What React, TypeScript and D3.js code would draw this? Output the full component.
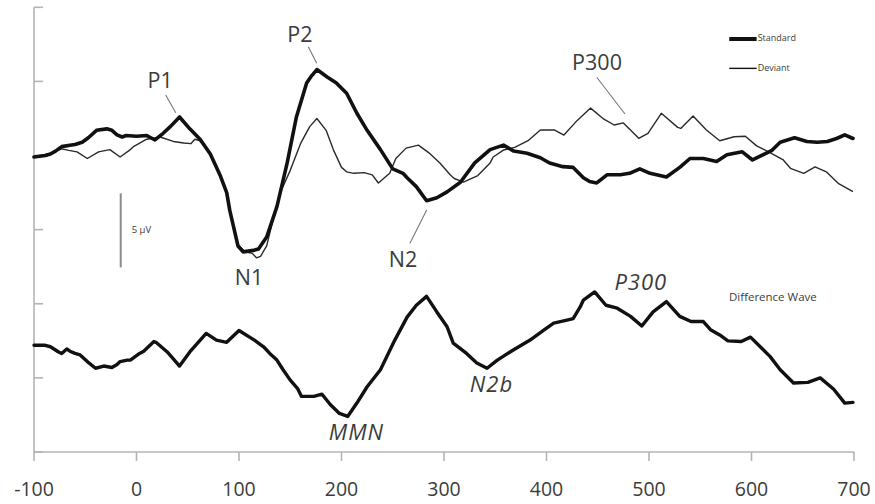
import React from 'react';
import * as d3 from 'd3';

// ---- axes ----
const xTicks = [-100, 0, 100, 200, 300, 400, 500, 600, 700];
const yTicks = [-20, -15, -10, -5, 0, 5, 10];

// ---- ERP waveforms: [time (ms), amplitude (µV)] ----
const standardWave: [number, number][] = [
  [-100, -0.1], [-89, 0], [-84, 0.1], [-79, 0.3], [-73, 0.6], [-65, 0.7], [-60, 0.75], [-53, 0.9],
  [-47, 1.2], [-39, 1.7], [-29, 1.8], [-24, 1.7], [-19, 1.4], [-14, 1.25], [-10, 1.35], [0, 1.3],
  [10, 1.35], [18, 1.05], [26, 1.5], [33, 1.95], [42, 2.6], [52, 1.8], [62, 1.1], [72, 0.1],
  [82, -1.4], [88, -2.5], [91, -3.7], [99, -6.1], [104, -6.5], [114, -6.4], [119, -6.3], [127, -5.5],
  [137, -3.45], [147, -0.5], [156, 2.6], [166, 4.9], [170, 5.3], [176, 5.8], [186, 5.3], [195, 4.9],
  [205, 4.2], [215, 2.85], [225, 1.7], [238, 0.4], [250, -0.9], [260, -1.2], [264, -1.5], [273, -2.1],
  [283, -3.05], [293, -2.85], [303, -2.45], [316, -1.8], [330, -0.5], [345, 0.4], [358, 0.7], [368, 0.3],
  [381, 0.15], [394, -0.15], [403, -0.5], [416, -0.75], [426, -0.8], [436, -1.5], [442, -1.75], [449, -1.85],
  [459, -1.3], [472, -1.3], [481, -1.2], [491, -0.9], [501, -1.2], [517, -1.45], [530, -0.8], [540, -0.2],
  [553, -0.2], [566, -0.4], [576, 0.05], [591, 0.25], [601, -0.3], [611, 0.05], [620, 0.35], [628, 0.9],
  [642, 1.2], [654, 0.95], [664, 0.9], [674, 0.95], [683, 1.15], [691, 1.4], [699, 1.15],
];

const deviantWave: [number, number][] = [
  [-100, -0.1], [-84, 0.15], [-73, 0.45], [-66, 0.35], [-58, 0.25], [-48, -0.2], [-37, 0.25], [-26, 0.4],
  [-16, -0.1], [-6, 0.4], [-3, 0.6], [10, 1.1], [23, 1.25], [36, 0.95], [46, 0.85], [53, 0.8],
  [57, 1.1], [62, 1.0], [72, 0.1], [82, -1.4], [88, -2.5], [91, -3.6], [99, -6.0], [106, -6.5],
  [113, -6.6], [117, -6.9], [121, -6.8], [127, -6.1], [134, -4.1], [140, -2.55], [150, -1.0], [160, 0.8],
  [169, 1.95], [176, 2.5], [185, 1.7], [192, 0.4], [200, -0.8], [205, -1.1], [212, -1.2], [222, -1.15],
  [230, -1.3], [236, -1.85], [247, -1.2], [253, -0.2], [263, 0.5], [275, 0.7], [285, 0.2], [296, -0.5],
  [306, -1.3], [310, -1.55], [319, -1.8], [333, -1.35], [345, -0.5], [348, -0.1], [358, 0.37], [369, 0.55],
  [382, 1.0], [394, 1.72], [408, 1.72], [417, 1.38], [430, 2.37], [443, 3.2], [456, 2.45], [466, 2.06],
  [475, 2.2], [490, 1.16], [499, 1.5], [512, 2.85], [528, 1.9], [531, 1.83], [543, 2.66], [556, 1.72],
  [569, 1.0], [583, 1.27], [594, 1.3], [605, 0.65], [618, 0.2], [631, -0.3], [638, -0.86], [651, -1.2],
  [662, -0.76], [673, -1.1], [685, -1.9], [699, -2.43],
];

const differenceWave: [number, number][] = [
  [-100, 0.2], [-89, 0.2], [-84, 0.1], [-76, -0.25], [-73, -0.35], [-68, -0.05], [-65, -0.2], [-60, -0.35],
  [-55, -0.45], [-48, -0.9], [-40, -1.35], [-32, -1.2], [-24, -1.3], [-19, -1.1], [-16, -0.9], [-9, -0.8],
  [-6, -0.8], [3, -0.35], [7, -0.2], [17, 0.45], [19, 0.4], [30, -0.25], [42, -1.2], [52, -0.25],
  [68, 1.0], [78, 0.55], [88, 0.4], [100, 1.2], [115, 0.55], [124, 0.1], [130, -0.35], [137, -0.8],
  [143, -1.45], [150, -2.15], [157, -2.7], [161, -3.25], [170, -3.25], [173, -3.25], [181, -3.1], [189, -3.8],
  [198, -4.4], [206, -4.6], [215, -3.7], [225, -2.6], [238, -1.45], [252, 0.55], [264, 2.1], [273, 2.9],
  [283, 3.5], [293, 2.45], [303, 1.45], [309, 0.35], [322, -0.35], [332, -1.0], [342, -1.35], [352, -0.8],
  [368, -0.1], [384, 0.55], [397, 1.2], [407, 1.7], [420, 1.9], [426, 2.0], [433, 2.8], [436, 3.25],
  [447, 3.8], [458, 2.9], [469, 2.7], [482, 2.15], [493, 1.5], [504, 2.45], [517, 3.15], [530, 2.15],
  [541, 1.8], [553, 1.8], [560, 1.25], [569, 0.9], [577, 0.5], [590, 0.45], [599, 0.75], [610, 0.0],
  [618, -0.55], [628, -1.45], [641, -2.35], [655, -2.3], [667, -2.0], [680, -2.75], [691, -3.7], [699, -3.65],
];
// the difference wave is drawn shifted down by this many µV
const DIFF_OFFSET = -13;

// ---- annotations ----
type Label = { text: string; t: number; v: number; italic: boolean; lead?: [number, number][] };
const upperLabels: Label[] = [
  { text: 'P1', t: 23, v: 4.55, italic: false, lead: [[28.5, 4.08], [38.2, 2.89]] },
  { text: 'P2', t: 159.5, v: 7.66, italic: false, lead: [[167.6, 7.34], [175.8, 6.22]] },
  { text: 'N1', t: 109.8, v: -8.74, italic: false },
  { text: 'N2', t: 260, v: -7.52, italic: false, lead: [[283.1, -3.68], [266.8, -5.92]] },
  { text: 'P300', t: 449.3, v: 5.77, italic: false, lead: [[449, 5.28], [476.6, 2.8]] },
];
const diffLabels: Label[] = [
  { text: 'P300', t: 492, v: 3.93, italic: true },
  { text: 'N2b', t: 346.3, v: -2.96, italic: true },
  { text: 'MMN', t: 214.6, v: -6.2, italic: true },
];
const legendItems = [
  { name: 'Standard', v: 7.86, width: 4 },
  { name: 'Deviant', v: 5.88, width: 1.4 },
];
const LEGEND_T = [578.3, 605];
const DIFF_TITLE = { text: 'Difference Wave', t: 578, v: 3.37 };
const SCALE_BAR = { t: -15.4, top: -2.55, size: 5, label: '5 µV' };

const W = 875;
const H = 504;
const FONT = "'Open Sans', 'DejaVu Sans', sans-serif";

export default function App() {
  const x = d3.scaleLinear().domain([-100, 700]).range([34, 854]);
  const y = d3.scaleLinear().domain([-20, 10]).range([452, 7.3]);
  const line = d3
    .line<[number, number]>()
    .x((d) => x(d[0]))
    .y((d) => y(d[1]))
    .curve(d3.curveLinear);
  const diffLine = d3
    .line<[number, number]>()
    .x((d) => x(d[0]))
    .y((d) => y(d[1] + DIFF_OFFSET))
    .curve(d3.curveLinear);

  const axisColor = '#b4b4b4';
  const textColor = '#3c3c3c';
  const x0 = x(-100);
  const yBottom = y(-20);

  return (
    <svg
      width={W}
      height={H}
      viewBox={`0 0 ${W} ${H}`}
      style={{ position: 'absolute', left: 0, top: 0, background: '#fff' }}
    >
      <rect x={0} y={0} width={W} height={H} fill="#fff" />
      {/* y axis */}
      <line x1={x0} x2={x0} y1={y(10)} y2={yBottom} stroke={axisColor} strokeWidth={1.6} />
      {yTicks.map((t) => (
        <line key={'yt' + t} x1={x0} x2={x0 + 9} y1={y(t)} y2={y(t)} stroke={axisColor} strokeWidth={1.6} />
      ))}
      {/* x axis */}
      <line x1={x0} x2={x(700)} y1={yBottom} y2={yBottom} stroke={axisColor} strokeWidth={1.6} />
      {xTicks.map((t) => (
        <g key={'xt' + t}>
          <line x1={x(t)} x2={x(t)} y1={yBottom} y2={yBottom + 9} stroke={axisColor} strokeWidth={1.6} />
          <text
            x={x(t)}
            y={496}
            textAnchor="middle"
            fontFamily={FONT}
            fontSize={19.5}
            fill={textColor}
          >
            {t}
          </text>
        </g>
      ))}

      {/* scale bar */}
      <line
        x1={x(SCALE_BAR.t)}
        x2={x(SCALE_BAR.t)}
        y1={y(SCALE_BAR.top)}
        y2={y(SCALE_BAR.top - SCALE_BAR.size)}
        stroke="#8c8c8c"
        strokeWidth={2}
      />
      <text
        x={x(SCALE_BAR.t) + 11}
        y={y(SCALE_BAR.top - SCALE_BAR.size / 2)}
        dominantBaseline="middle"
        fontFamily={FONT}
        fontSize={9.5}
        fill={textColor}
      >
        {SCALE_BAR.label}
      </text>

      {/* waveforms */}
      <path d={line(deviantWave) || ''} fill="none" stroke="#2a2a2a" strokeWidth={1.4} strokeLinejoin="round" />
      <path d={line(standardWave) || ''} fill="none" stroke="#111" strokeWidth={3.6} strokeLinejoin="round" strokeLinecap="round" />
      <path d={diffLine(differenceWave) || ''} fill="none" stroke="#111" strokeWidth={3.4} strokeLinejoin="round" strokeLinecap="round" />

      {/* peak labels */}
      {upperLabels.map((l) => (
        <g key={'ul' + l.text}>
          <text
            x={x(l.t)}
            y={y(l.v)}
            textAnchor="middle"
            fontFamily={FONT}
            fontSize={21.5}
            fill={textColor}
          >
            {l.text}
          </text>
          {l.lead && (
            <line
              x1={x(l.lead[0][0])}
              y1={y(l.lead[0][1])}
              x2={x(l.lead[1][0])}
              y2={y(l.lead[1][1])}
              stroke="#777"
              strokeWidth={1.1}
            />
          )}
        </g>
      ))}
      {diffLabels.map((l) => (
        <text
          key={'dl' + l.text}
          x={x(l.t)}
          y={y(l.v + DIFF_OFFSET)}
          textAnchor="middle"
          fontFamily={FONT}
          fontStyle="italic"
          fontSize={22}
          letterSpacing={1}
          fill={textColor}
        >
          {l.text}
        </text>
      ))}
      <text
        x={x(DIFF_TITLE.t)}
        y={y(DIFF_TITLE.v + DIFF_OFFSET)}
        dominantBaseline="middle"
        fontFamily={FONT}
        fontSize={11.5}
        fill={textColor}
      >
        {DIFF_TITLE.text}
      </text>

      {/* legend */}
      {legendItems.map((it) => (
        <g key={'lg' + it.name}>
          <line
            x1={x(LEGEND_T[0])}
            x2={x(LEGEND_T[1])}
            y1={y(it.v)}
            y2={y(it.v)}
            stroke="#111"
            strokeWidth={it.width}
          />
          <text
            x={x(LEGEND_T[1]) + 1}
            y={y(it.v)}
            dominantBaseline="middle"
            fontFamily={FONT}
            fontSize={9}
            fill={textColor}
          >
            {it.name}
          </text>
        </g>
      ))}
    </svg>
  );
}
